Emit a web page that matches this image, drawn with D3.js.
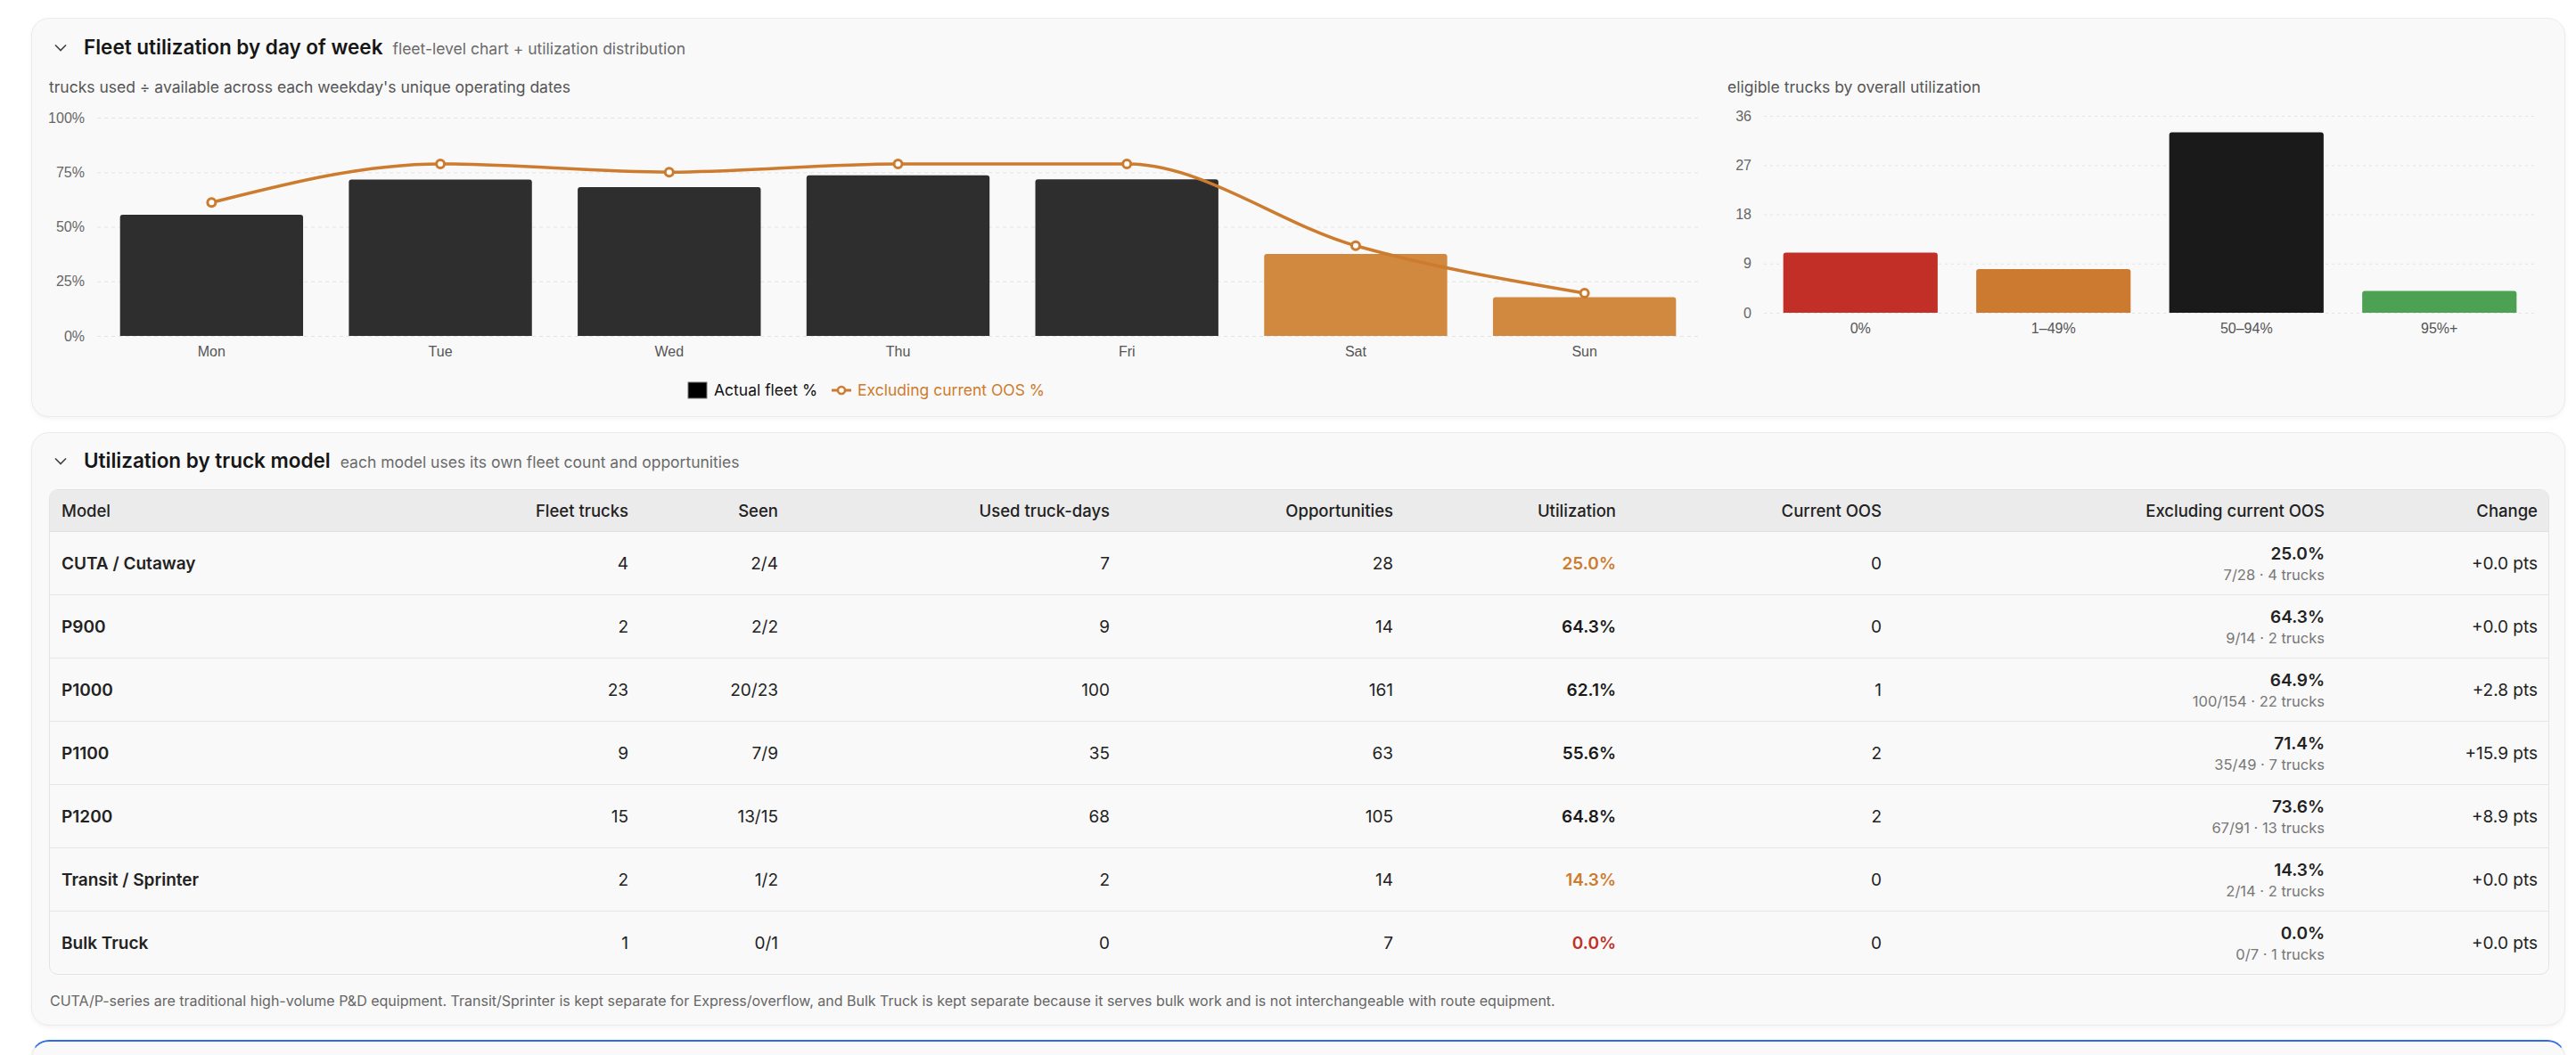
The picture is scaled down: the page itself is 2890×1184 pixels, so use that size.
<!DOCTYPE html>
<html>
<head>
<meta charset="utf-8">
<script src="https://cdn.jsdelivr.net/npm/d3@7"></script>
<style>
  body { margin: 0; width: 2890px; height: 1184px; overflow: hidden; position: relative; background: #fff;
         font-family: Inter, "Noto Sans", sans-serif; color: #1c1c1c; }
  .card { position: absolute; left: 35px; width: 2843px; background: #f9f9f9; border: 1px solid #ebebeb;
          border-radius: 20px; box-shadow: 0 2px 5px rgba(0,0,0,0.05); box-sizing: border-box; }
  .head { position: absolute; left: 58px; display: flex; align-items: baseline; white-space: nowrap; }
  .head .t { font-size: 22.5px; font-weight: 600; color: #161616; }
  .head .s { font-size: 17.5px; color: #6a6a6a; margin-left: 11px; }
  .chev { position: absolute; left: 24px; }
  svg.over { position: absolute; left: 0; top: 0; }
  table.models { position: absolute; left: 55px; top: 549px; width: 2803px; table-layout: fixed;
                 border-collapse: separate; border-spacing: 0; border: 1px solid #e3e3e3; border-radius: 10px;
                 overflow: hidden; font-size: 19px; box-sizing: border-box; }
  table.models th { height: 46px; background: #ebebeb; font-weight: 500; font-size: 18.5px; color: #222; padding: 0 12px;
                    text-align: right; border-bottom: 1px solid #e0e0e0; }
  table.models td { height: 70px; padding: 0 12px; text-align: right; border-bottom: 1px solid #e6e6e6; color: #222; }
  table.models tr:last-child td { border-bottom: none; }
  table.models .l { text-align: left; padding-left: 13px; }
  td.model { font-weight: 600; color: #141414; }
  td.opp { color: #6a6a6a; }
  td.util { font-weight: 600; }
  .ex1 { font-weight: 600; line-height: 25px; }
  .ex2 { font-size: 16.5px; color: #777; line-height: 22px; }
  .note { position: absolute; left: 56px; top: 1113px; font-size: 16px; color: #666; white-space: nowrap; }
</style>
</head>
<body>
<script>
// ---- fleet utilization by weekday ----
const days = ["Mon", "Tue", "Wed", "Thu", "Fri", "Sat", "Sun"];
const actualFleetPct = [55.5, 71.6, 68.2, 73.6, 71.7, 37.6, 17.8];
const exclOosPct = [61.1, 78.8, 75.0, 78.8, 78.8, 41.3, 19.6];
const weekendDays = ["Sat", "Sun"];
const pctTicks = [0, 25, 50, 75, 100];

// ---- distribution of trucks by overall utilization ----
const utilBuckets = ["0%", "1–49%", "50–94%", "95%+"];
const bucketTrucks = [11, 8, 33, 4];
const bucketColors = ["#c12f27", "#cb7a30", "#1a1a1a", "#4da153"];
const countTicks = [0, 9, 18, 27, 36];

// ---- utilization by truck model ----
const models = ["CUTA / Cutaway", "P900", "P1000", "P1100", "P1200", "Transit / Sprinter", "Bulk Truck"];
const fleetTrucks = [4, 2, 23, 9, 15, 2, 1];
const seenTrucks = [2, 2, 20, 7, 13, 1, 0];
const usedTruckDays = [7, 9, 100, 35, 68, 2, 0];
const opportunities = [28, 14, 161, 63, 105, 14, 7];
const utilizationPct = [25.0, 64.3, 62.1, 55.6, 64.8, 14.3, 0.0];
const currentOos = [0, 0, 1, 2, 2, 0, 0];
const exclUtilPct = [25.0, 64.3, 64.9, 71.4, 73.6, 14.3, 0.0];
const exclUsed = [7, 9, 100, 35, 67, 2, 0];
const exclOpps = [28, 14, 154, 49, 91, 14, 7];
const exclTrucks = [4, 2, 22, 7, 13, 2, 1];
const changePts = [0.0, 0.0, 2.8, 15.9, 8.9, 0.0, 0.0];

const orange = "#cd7b2e";
const body = d3.select("body");

// cards
const card1 = body.append("div").attr("class", "card").style("top", "20px").style("height", "448px");
const card2 = body.append("div").attr("class", "card").style("top", "485px").style("height", "666px");
body.append("div").attr("class", "card")
    .style("top", "1167px").style("height", "120px")
    .style("border-top", "2px solid #2f6ddf");

function header(card, title, sub, top) {
  card.append("svg").attr("class", "chev").attr("width", 16).attr("height", 12)
      .style("top", (top - 6) + "px")
    .append("path").attr("d", "M2,2.5 L8,8.5 L14,2.5")
      .attr("fill", "none").attr("stroke", "#444").attr("stroke-width", 1.7);
  const h = card.append("div").attr("class", "head").style("top", (top - 15) + "px");
  h.append("span").attr("class", "t").text(title);
  h.append("span").attr("class", "s").text(sub);
}
header(card1, "Fleet utilization by day of week", "fleet-level chart + utilization distribution", 33);
header(card2, "Utilization by truck model", "each model uses its own fleet count and opportunities", 32);

const svg = body.append("svg").attr("class", "over")
    .attr("width", 2890).attr("height", 480)
    .style("font-family", "Inter, 'Noto Sans', sans-serif");

// bar path with rounded top corners
function topRounded(x, y, w, h, r) {
  r = Math.min(r, h);
  return `M${x},${y + h}V${y + r}Q${x},${y} ${x + r},${y}H${x + w - r}Q${x + w},${y} ${x + w},${y + r}V${y + h}Z`;
}

// ---------- left chart ----------
{
  const x = d3.scaleBand().domain(days).range([109, 1906]).paddingInner(0.2).paddingOuter(0.1);
  const y = d3.scaleLinear().domain([0, 100]).range([377, 132]);
  const g = svg.append("g");

  g.append("text").attr("x", 55).attr("y", 98).attr("dy", "0.35em")
      .attr("font-size", 17.5).attr("fill", "#555")
      .text("trucks used ÷ available across each weekday's unique operating dates");

  const yAxis = d3.axisLeft(y).tickValues(pctTicks).tickFormat(d => d + "%")
      .tickSize(-(1906 - 109)).tickPadding(14);
  g.append("g").attr("transform", "translate(109,0)").call(yAxis)
    .call(a => a.select(".domain").remove())
    .call(a => a.selectAll(".tick line").attr("stroke", "#e4e4e4").attr("stroke-dasharray", "4 4"))
    .call(a => a.selectAll(".tick text").attr("font-size", 16).attr("fill", "#666").attr("font-family", null));

  const xAxis = d3.axisBottom(x).tickSize(0).tickPadding(12);
  g.append("g").attr("transform", "translate(0,377)").call(xAxis)
    .call(a => a.select(".domain").remove())
    .call(a => a.selectAll(".tick text").attr("font-size", 16).attr("fill", "#555").attr("font-family", null));

  g.append("g").selectAll("path").data(days).join("path")
      .attr("d", (d, i) => topRounded(x(d), y(actualFleetPct[i]), x.bandwidth(), y(0) - y(actualFleetPct[i]), 3))
      .attr("fill", d => weekendDays.includes(d) ? "#d1883f" : "#2e2e2e");

  const line = d3.line().curve(d3.curveMonotoneX)
      .x((d, i) => x(days[i]) + x.bandwidth() / 2).y(d => y(d));
  g.append("path").datum(exclOosPct).attr("d", line)
      .attr("fill", "none").attr("stroke", orange).attr("stroke-width", 3.5);
  g.append("g").selectAll("circle").data(exclOosPct).join("circle")
      .attr("cx", (d, i) => x(days[i]) + x.bandwidth() / 2).attr("cy", d => y(d)).attr("r", 4.5)
      .attr("fill", "#fff").attr("stroke", orange).attr("stroke-width", 3);

  // legend
  const lg = g.append("g").attr("transform", "translate(772,438)");
  lg.append("rect").attr("x", 0).attr("y", -9).attr("width", 21).attr("height", 18)
      .attr("fill", "#000").attr("stroke", "#777").attr("stroke-width", 1);
  lg.append("text").attr("x", 29).attr("dy", "0.35em").attr("font-size", 17.5).attr("fill", "#111").text("Actual fleet %");
  lg.append("line").attr("x1", 161).attr("x2", 183).attr("stroke", orange).attr("stroke-width", 3);
  lg.append("circle").attr("cx", 172).attr("r", 4).attr("fill", "#fff").attr("stroke", orange).attr("stroke-width", 2.5);
  lg.append("text").attr("x", 190).attr("dy", "0.35em").attr("font-size", 17.5).attr("fill", orange).text("Excluding current OOS %");
}

// ---------- right chart ----------
{
  const x = d3.scaleBand().domain(utilBuckets).range([1979, 2845]).paddingInner(0.2).paddingOuter(0.1);
  const y = d3.scaleLinear().domain([0, 36]).range([351, 130]);
  const g = svg.append("g");

  g.append("text").attr("x", 1938).attr("y", 98).attr("dy", "0.35em")
      .attr("font-size", 17.5).attr("fill", "#555").text("eligible trucks by overall utilization");

  g.append("g").attr("transform", "translate(1979,0)")
    .call(d3.axisLeft(y).tickValues(countTicks).tickSize(-(2845 - 1979)).tickPadding(14))
    .call(a => a.select(".domain").remove())
    .call(a => a.selectAll(".tick line").attr("stroke", "#e4e4e4").attr("stroke-dasharray", "3 4"))
    .call(a => a.selectAll(".tick text").attr("font-size", 16).attr("fill", "#666").attr("font-family", null));

  g.append("g").attr("transform", "translate(0,351)")
    .call(d3.axisBottom(x).tickSize(0).tickPadding(12))
    .call(a => a.select(".domain").remove())
    .call(a => a.selectAll(".tick text").attr("font-size", 16).attr("fill", "#555").attr("font-family", null));

  g.append("g").selectAll("path").data(utilBuckets).join("path")
      .attr("d", (d, i) => topRounded(x(d), y(bucketTrucks[i]), x.bandwidth(), y(0) - y(bucketTrucks[i]), 3))
      .attr("fill", (d, i) => bucketColors[i]);
}

// ---------- table ----------
const fmt1 = d3.format(".1f");
const utilColor = v => v === 0 ? "#c12f27" : v < 50 ? orange : "#1a1a1a";
const columns = [
  { name: "Model", w: 500 },
  { name: "Fleet trucks", w: 161 },
  { name: "Seen", w: 168 },
  { name: "Used truck-days", w: 372 },
  { name: "Opportunities", w: 318 },
  { name: "Utilization", w: 250 },
  { name: "Current OOS", w: 298 },
  { name: "Excluding current OOS", w: 497 },
  { name: "Change", w: 239 }
];

const table = body.append("table").attr("class", "models");
table.append("colgroup").selectAll("col").data(columns).join("col").style("width", d => d.w + "px");
table.append("thead").append("tr").selectAll("th").data(columns).join("th")
    .attr("class", (d, i) => i === 0 ? "l" : null).text(d => d.name);

const rows = table.append("tbody").selectAll("tr").data(models).join("tr");
rows.append("td").attr("class", "l model").text(d => d);
rows.append("td").text((d, i) => fleetTrucks[i]);
rows.append("td").text((d, i) => `${seenTrucks[i]}/${fleetTrucks[i]}`);
rows.append("td").text((d, i) => usedTruckDays[i]);
rows.append("td").attr("class", "opp").text((d, i) => opportunities[i]);
rows.append("td").attr("class", "util").style("color", (d, i) => utilColor(utilizationPct[i]))
    .text((d, i) => fmt1(utilizationPct[i]) + "%");
rows.append("td").text((d, i) => currentOos[i]);
const ex = rows.append("td");
ex.append("div").attr("class", "ex1").text((d, i) => fmt1(exclUtilPct[i]) + "%");
ex.append("div").attr("class", "ex2").text((d, i) => `${exclUsed[i]}/${exclOpps[i]} · ${exclTrucks[i]} trucks`);
rows.append("td").text((d, i) => "+" + fmt1(changePts[i]) + " pts");

body.append("div").attr("class", "note")
    .text("CUTA/P-series are traditional high-volume P&D equipment. Transit/Sprinter is kept separate for Express/overflow, and Bulk Truck is kept separate because it serves bulk work and is not interchangeable with route equipment.");
</script>
</body>
</html>
